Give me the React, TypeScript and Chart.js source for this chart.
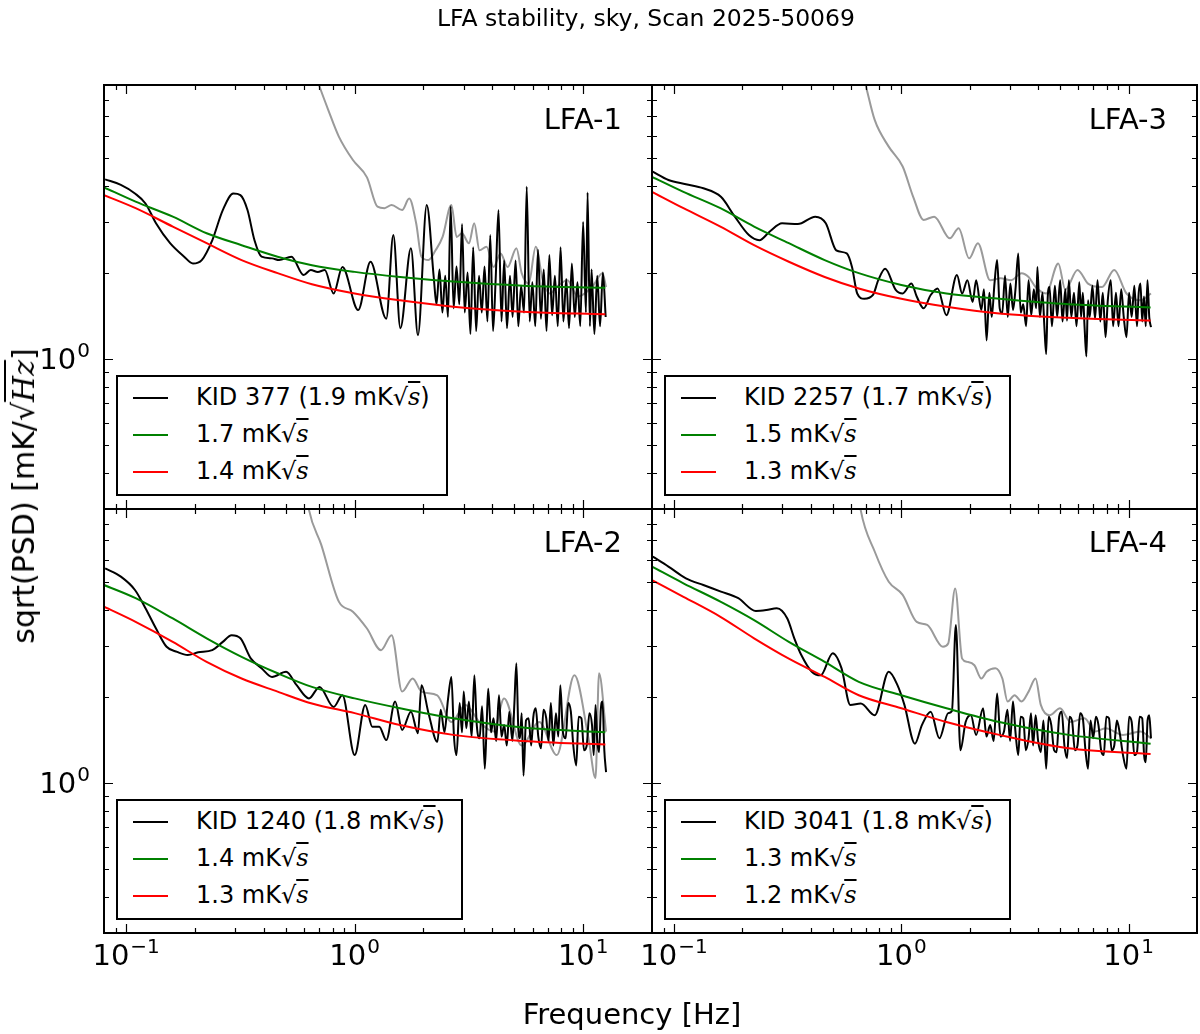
import React, { useEffect, useRef } from "react";
import { Chart, registerables } from "chart.js";

Chart.register(...registerables);

// ---------------- text ----------------
const TITLE = "LFA stability, sky, Scan 2025-50069";
const X_LABEL = "Frequency [Hz]";
const Y_LABEL_PREFIX = "sqrt(PSD) [mK/";
const Y_LABEL_ROOT = "Hz";
const Y_LABEL_SUFFIX = "]";

const panelNames = ["LFA-1", "LFA-3", "LFA-2", "LFA-4"];
const kidIds = ["377", "2257", "1240", "3041"];
const kidNoise = ["1.9", "1.7", "1.8", "1.8"];
const greenNoise = ["1.7", "1.5", "1.4", "1.3"];
const redNoise = ["1.4", "1.3", "1.3", "1.2"];

// ---------------- axes ----------------
const xMin = 0.08;
const xMax = 20;
const yMin = 0.3;
const yMax = 9;
const xMajorTicks = [0.1, 1, 10];
const xTickExponents = ["\u22121", "0", "1"];
const xMinorTicks = [0.09, 0.2, 0.3, 0.4, 0.5, 0.6, 0.7, 0.8, 0.9, 2, 3, 4, 5, 6, 7, 8, 9];
const yMajorTicks = [1];
const yTickExponents = ["0"];
const yMinorTicks = [0.4, 0.5, 0.6, 0.7, 0.8, 0.9, 2, 3, 4, 5, 6, 7, 8];

// ---------------- model curves (shared frequency grid) ----------------
const modelFreq = [0.08, 0.11, 0.16, 0.225, 0.32, 0.46, 0.65, 1.0, 1.58, 2.7, 5.45, 12.5];
const lfa1Green = [3.96, 3.53, 3.13, 2.74, 2.49, 2.27, 2.12, 2.01, 1.93, 1.86, 1.8, 1.77];
const lfa1Red = [3.72, 3.35, 2.89, 2.53, 2.21, 1.99, 1.82, 1.69, 1.6, 1.52, 1.46, 1.43];
const lfa3Green = [4.31, 3.82, 3.35, 2.89, 2.53, 2.21, 1.99, 1.81, 1.69, 1.62, 1.55, 1.51];
const lfa3Red = [3.82, 3.35, 2.89, 2.49, 2.18, 1.93, 1.76, 1.62, 1.52, 1.44, 1.39, 1.36];
const lfa2Green = [4.89, 4.4, 3.74, 3.19, 2.75, 2.41, 2.16, 1.97, 1.82, 1.68, 1.56, 1.5];
const lfa2Red = [4.11, 3.64, 3.1, 2.64, 2.31, 2.08, 1.89, 1.75, 1.59, 1.47, 1.4, 1.36];
const lfa4Green = [5.67, 4.96, 4.28, 3.69, 3.1, 2.64, 2.25, 2.02, 1.82, 1.63, 1.47, 1.37];
const lfa4Red = [5.09, 4.45, 3.79, 3.19, 2.71, 2.34, 2.02, 1.82, 1.63, 1.47, 1.32, 1.26];

// ---------------- KID spectra (black) ----------------
const lfa1KidFreq = [
  0.0809, 0.0948, 0.1093, 0.1215, 0.1351, 0.1557, 0.1794, 0.196, 0.2142, 0.2381,
  0.2648, 0.2945, 0.3162, 0.3396, 0.3644, 0.3912, 0.435, 0.467, 0.5286, 0.5981,
  0.6423, 0.6895, 0.7401, 0.8086, 0.8837, 1.036, 1.173, 1.375, 1.476, 1.585,
  1.763, 1.892, 2.067,
  2.22, 2.28, 2.35, 2.42, 2.49, 2.56, 2.63, 2.71, 2.79, 2.87,
  2.95, 3.03, 3.12, 3.21, 3.3, 3.4, 3.5, 3.6, 3.7, 3.81,
  3.92, 4.03, 4.14, 4.26, 4.39, 4.51, 4.64, 4.78, 4.91, 5.06,
  5.2, 5.35, 5.51, 5.66, 5.83, 5.99, 6.17, 6.34, 6.53, 6.72,
  6.91, 7.11, 7.31, 7.52, 7.74, 7.96, 8.19, 8.43, 8.67, 8.92,
  9.18, 9.44, 9.71, 9.99, 10.28, 10.45, 10.7, 10.88, 11.19, 11.52,
  11.85, 12.19, 12.54,
];
const lfa1Kid = [
  4.22, 4.04, 3.77, 3.48, 2.97, 2.53, 2.27, 2.15, 2.21, 2.59,
  3.3, 3.77, 3.72, 3.3, 2.59, 2.27, 2.24, 2.21, 2.27, 1.96,
  2.04, 2.01, 2.04, 1.69, 2.09, 1.48, 2.18, 1.38, 2.7, 1.28,
  2.43, 1.21, 3.44,
  1.91, 1.55, 2.05, 1.45, 1.95, 1.4, 3.4, 1.5, 2.1, 1.55,
  2.95, 1.45, 2.0, 1.22, 2.45, 1.25, 1.95, 1.45, 2.1, 1.35,
  2.7, 1.25, 1.9, 3.3, 1.35, 2.2, 1.28, 1.95, 1.4, 2.2,
  1.3, 1.8, 1.45, 3.98, 1.35, 1.85, 1.3, 2.4, 1.38, 2.05,
  1.25, 2.3, 1.42, 1.95, 1.3, 2.45, 1.35, 1.9, 1.28, 2.15,
  1.4, 1.85, 1.3, 3.0, 1.45, 3.8, 1.3, 2.05, 1.22, 1.95,
  1.3, 2.0, 1.4,
];

const lfa3KidFreq = [
  0.0806, 0.0945, 0.1128, 0.1346, 0.1608, 0.1852, 0.2135, 0.2373, 0.2639, 0.2988,
  0.3504, 0.4183, 0.4653, 0.5173, 0.5754, 0.6068, 0.6398, 0.6871, 0.7508, 0.7918,
  0.8495, 0.9449, 1.014, 1.108, 1.169, 1.254, 1.347, 1.445, 1.579, 1.757,
  1.852, 1.953, 2.06, 2.134,
  2.25, 2.31, 2.373, 2.44, 2.5, 2.57, 2.64, 2.71, 2.78, 2.86,
  2.94, 3.02, 3.1, 3.18, 3.27, 3.35, 3.44, 3.54, 3.63, 3.73,
  3.83, 3.92, 3.97, 4.07, 4.18, 4.26, 4.34, 4.41, 4.49, 4.6,
  4.74, 4.85, 5.0, 5.12, 5.27, 5.36, 5.46, 5.6, 5.75, 5.9,
  6.07, 6.18, 6.29, 6.4, 6.52, 6.63, 6.75, 6.93, 7.12, 7.3,
  7.51, 7.7, 7.92, 8.1, 8.35, 8.55, 8.8, 9.03, 9.28, 9.52,
  9.79, 10.05, 10.32, 10.6, 10.89, 11.08, 11.28, 11.48, 11.69, 11.9,
  12.11, 12.33, 12.55,
];
const lfa3Kid = [
  4.49, 4.2, 4.06, 3.93, 3.67, 3.13, 2.7, 2.59, 2.78, 2.97,
  2.95, 3.13, 2.97, 2.39, 2.33, 2.09, 1.69, 1.62, 1.67, 1.88,
  2.06, 1.74, 1.69, 1.83, 1.65, 1.5, 1.67, 1.76, 1.42, 1.96,
  1.69, 1.88, 1.58, 1.88,
  1.48, 1.75, 1.16, 1.7, 1.4, 1.83, 2.21, 1.5, 1.44, 1.95,
  1.4, 1.83, 1.48, 1.75, 2.33, 1.45, 1.55, 1.3, 1.88, 1.42,
  1.75, 1.5, 2.09, 1.4, 1.7, 1.3, 1.04, 1.65, 1.78, 1.3,
  1.8, 1.4, 1.88, 1.35, 1.75, 1.36, 1.88, 1.4, 1.7, 1.3,
  1.85, 1.4, 1.7, 1.3, 1.02, 1.6, 1.4, 1.8, 1.38, 1.88,
  1.35, 1.7, 1.19, 1.6, 1.88, 1.3, 1.7, 1.3, 1.75, 1.4,
  1.19, 1.7, 1.4, 1.8, 1.3, 1.7, 1.83, 1.35, 1.65, 1.3,
  1.88, 1.4, 1.29,
];

const lfa2KidFreq = [
  0.0809, 0.0948, 0.1093, 0.1215, 0.1351, 0.1503, 0.1671, 0.1859, 0.2067, 0.2381,
  0.2648, 0.2893, 0.3162, 0.3517, 0.3912, 0.435, 0.5012, 0.5573, 0.631, 0.7017,
  0.8086, 0.8837, 1.0, 1.112, 1.194, 1.281, 1.375, 1.503, 1.613, 1.763,
  1.892, 1.96, 2.104,
  2.3, 2.38, 2.47, 2.56, 2.65, 2.72, 2.79, 2.88, 2.95, 3.0,
  3.08, 3.16, 3.25, 3.34, 3.42, 3.52, 3.61, 3.71, 3.78, 3.84,
  3.95, 4.05, 4.16, 4.28, 4.39, 4.51, 4.63, 4.75, 4.9, 5.0,
  5.1, 5.2, 5.29, 5.38, 5.48, 5.62, 5.77, 5.92, 6.05, 6.2,
  6.36, 6.54, 6.7, 6.89, 7.05, 7.22, 7.4, 7.6, 7.78, 7.94,
  8.15, 8.38, 8.6, 8.83, 9.05, 9.32, 9.55, 9.82, 10.08, 10.36,
  10.64, 10.93, 11.12, 11.32, 11.52, 11.73, 11.94, 12.15, 12.37, 12.59,
];
const lfa2Kid = [
  5.59, 5.23, 4.7, 4.06, 3.45, 2.98, 2.86, 2.79, 2.85, 2.9,
  3.1, 3.27, 3.19, 2.71, 2.51, 2.34, 2.44, 2.19, 1.97, 2.16,
  1.84, 2.02, 1.25, 1.87, 1.57, 1.57, 1.41, 1.92, 1.53, 1.77,
  1.49, 2.19, 1.75,
  1.39, 1.8, 1.5, 1.95, 2.34, 1.45, 1.25, 1.9, 1.5, 2.08,
  1.55, 1.92, 1.45, 2.37, 1.6, 1.43, 1.85, 1.12, 1.6, 2.13,
  1.5, 1.68, 1.4, 2.02, 1.45, 1.59, 1.35, 1.77, 1.4, 1.9,
  2.61, 1.55, 1.43, 1.75, 1.06, 1.65, 1.68, 1.35, 1.7, 1.82,
  1.45, 1.32, 1.8, 1.68, 1.4, 1.9, 1.35, 1.75, 1.45, 2.19,
  1.5, 1.43, 1.9, 1.77, 1.35, 1.15, 1.7, 1.68, 1.3, 1.35,
  1.75, 1.59, 1.25, 1.87, 1.4, 1.28, 1.8, 1.92, 1.3, 1.09,
];

const lfa4KidFreq = [
  0.0806, 0.0945, 0.1128, 0.1346, 0.1608, 0.1918, 0.2291, 0.2548, 0.2833, 0.3151,
  0.3382, 0.3631, 0.4039, 0.4413, 0.4994, 0.5455, 0.5962, 0.6632, 0.7637, 0.8803,
  0.9618, 1.032, 1.148, 1.232, 1.347, 1.471, 1.608, 1.67, 1.738, 1.82,
  1.919, 2.024, 2.134,
  2.29, 2.37, 2.46, 2.55, 2.64, 2.73, 2.83, 2.93, 3.01, 3.1,
  3.18, 3.27, 3.35, 3.44, 3.53, 3.63, 3.72, 3.8, 3.9, 4.0,
  4.11, 4.22, 4.34, 4.45, 4.57, 4.7, 4.82, 4.95, 5.08, 5.22,
  5.36, 5.5, 5.65, 5.8, 5.96, 6.12, 6.29, 6.46, 6.63, 6.8,
  6.99, 7.18, 7.37, 7.57, 7.78, 7.98, 8.2, 8.42, 8.65, 8.88,
  9.12, 9.45, 9.79, 10.05, 10.32, 10.6, 10.89, 11.18, 11.48, 11.7,
  11.9, 12.12, 12.33, 12.55,
];
const lfa4Kid = [
  6.14, 5.67, 5.16, 4.89, 4.64, 4.4, 3.97, 4.0, 4.06, 3.74,
  3.19, 2.79, 2.44, 2.37, 2.83, 2.51, 1.87, 1.89, 1.72, 2.44,
  2.19, 1.87, 1.37, 1.59, 1.77, 1.43, 1.75, 1.78, 3.55, 1.3,
  1.63, 1.72, 1.47,
  1.82, 1.45, 1.59, 1.4, 2.05, 1.45, 1.51, 1.8, 1.4, 1.92,
  1.5, 1.25, 1.7, 1.68, 1.3, 1.43, 1.75, 1.35, 1.72, 1.4,
  1.28, 1.65, 1.12, 1.7, 1.59, 1.3, 1.28, 1.7, 1.77, 1.35,
  1.22, 1.7, 1.63, 1.3, 1.35, 1.75, 1.68, 1.3, 1.12, 1.65,
  1.43, 1.7, 1.59, 1.3, 1.25, 1.7, 1.68, 1.3, 1.35, 1.65,
  1.51, 1.25, 1.12, 1.7, 1.63, 1.25, 1.28, 1.7, 1.68, 1.25,
  1.18, 1.65, 1.72, 1.43,
];

// ---------------- uncorrected spectra (grey) ----------------
const lfa1GrayFreq = [
  0.6535, 0.7017, 0.7667, 0.8526, 0.9824, 1.132, 1.259, 1.351, 1.451, 1.613,
  1.732, 1.858, 1.96, 2.104, 2.259, 2.425, 2.649, 2.794, 2.946, 3.162,
  3.335, 3.517, 3.776, 4.053, 4.35, 4.669, 5.103, 5.38, 5.774, 6.198,
  6.653, 7.142, 7.666, 8.526, 9.482, 10.93, 12.15, 12.59,
];
const lfa1Gray = [
  10.5, 8.89, 7.36, 5.95, 4.93, 4.29, 3.39, 3.35, 3.44, 3.3,
  3.62, 2.97, 2.27, 2.21, 2.39, 2.66, 3.44, 2.66, 2.74, 2.53,
  2.97, 2.39, 2.46, 2.09, 2.33, 2.09, 2.43, 1.99, 1.83, 2.46,
  1.88, 1.69, 1.78, 1.88, 1.65, 1.78, 1.99, 1.78,
];
const lfa3GrayFreq = [
  0.6632, 0.6993, 0.7637, 0.8803, 1.014, 1.128, 1.254, 1.395, 1.636, 1.788,
  1.988, 2.173, 2.459, 2.734, 3.041, 3.382, 3.631, 3.897, 4.335, 4.907,
  5.267, 5.962, 6.631, 7.641, 8.647, 9.79, 11.28, 12.55,
];
const lfa3Gray = [
  10.5, 8.9, 6.8, 5.49, 4.68, 3.67, 3.05, 3.13, 2.63, 2.85,
  2.24, 2.53, 1.88, 1.91, 1.88, 1.99, 1.93, 1.78, 1.69, 2.15,
  1.74, 2.04, 1.83, 1.78, 2.04, 1.69, 1.6, 1.69,
];
const lfa2GrayFreq = [
  0.598, 0.631, 0.7143, 0.8526, 0.9824, 1.132, 1.304, 1.451, 1.613, 1.794,
  1.96, 2.299, 2.649, 3.052, 3.517, 4.053, 4.507, 5.38, 6.422, 7.666,
  9.152, 10.55, 11.32, 11.73, 12.59,
];
const lfa2Gray = [
  12, 8.94, 6.75, 4.28, 3.95, 3.45, 2.9, 3.27, 2.08, 2.31,
  2.08, 2.02, 1.63, 1.87, 1.63, 1.51, 1.97, 1.35, 1.63, 1.25,
  2.37, 1.43, 1.04, 2.41, 1.51,
];
const lfa4GrayFreq = [
  0.64, 0.6632, 0.7637, 0.8803, 1.014, 1.169, 1.3, 1.524, 1.608, 1.726,
  1.852, 1.953, 2.097, 2.251, 2.373, 2.594, 2.784, 2.936, 3.151, 3.382,
  3.631, 3.897, 4.11, 4.492, 4.995, 5.555, 6.4, 7.118, 7.915, 9.45,
  11.28, 12.55,
];
const lfa4Gray = [
  11, 8.9, 6.4, 5.02, 4.52, 3.64, 3.55, 2.98, 3.06, 4.76,
  2.71, 2.64, 2.57, 2.31, 2.44, 2.51, 2.31, 1.92, 2.02, 1.92,
  2.08, 2.31, 1.87, 1.72, 1.82, 1.63, 1.68, 1.51, 1.55, 1.47,
  1.51, 1.43,
];

// ---------------- layout ----------------
const W = 1200;
const H = 1034;
const FONT = "'DejaVu Sans', sans-serif";
const SERIF = "'DejaVu Serif', serif";

type Rect = { l: number; t: number; r: number; b: number };

const panelRects: Rect[] = [
  { l: 104, t: 85, r: 652, b: 509 },
  { l: 652, t: 85, r: 1197, b: 509 },
  { l: 104, t: 509, r: 652, b: 933 },
  { l: 652, t: 509, r: 1197, b: 933 },
];

const panelData = [
  { kidF: lfa1KidFreq, kidV: lfa1Kid, grayF: lfa1GrayFreq, grayV: lfa1Gray, green: lfa1Green, red: lfa1Red },
  { kidF: lfa3KidFreq, kidV: lfa3Kid, grayF: lfa3GrayFreq, grayV: lfa3Gray, green: lfa3Green, red: lfa3Red },
  { kidF: lfa2KidFreq, kidV: lfa2Kid, grayF: lfa2GrayFreq, grayV: lfa2Gray, green: lfa2Green, red: lfa2Red },
  { kidF: lfa4KidFreq, kidV: lfa4Kid, grayF: lfa4GrayFreq, grayV: lfa4Gray, green: lfa4Green, red: lfa4Red },
];

const BASE_FONT = "29px 'DejaVu Sans', sans-serif";
const SUP_FONT = "20px 'DejaVu Sans', sans-serif";

// draws "10" with a raised exponent; align: "center" (x axis) or "right" (y axis)
function drawPower(ctx: any, x: number, baseline: number, exp: string, align: string) {
  ctx.font = BASE_FONT;
  const w1 = ctx.measureText("10").width;
  ctx.font = SUP_FONT;
  const w2 = ctx.measureText(exp).width;
  const total = w1 + 1 + w2;
  const start = align === "center" ? x - total / 2 : x - total;
  ctx.textAlign = "left";
  ctx.textBaseline = "alphabetic";
  ctx.fillStyle = "#000";
  ctx.font = BASE_FONT;
  ctx.fillText("10", start, baseline);
  ctx.font = SUP_FONT;
  ctx.fillText(exp, start + w1 + 1, baseline - 12);
}

const frameTicksPlugin = {
  id: "frameTicks",
  afterDatasetsDraw(chart: any, _args: any, opts: any) {
    const { ctx, chartArea: a } = chart;
    const xs = chart.scales.x;
    const ys = chart.scales.y;
    ctx.save();
    ctx.strokeStyle = "#000";
    ctx.lineWidth = 1.2;
    ctx.beginPath();
    const vTick = (v: number, len: number) => {
      const px = Math.round(xs.getPixelForValue(v)) + 0.5;
      ctx.moveTo(px, a.bottom);
      ctx.lineTo(px, a.bottom - len);
      ctx.moveTo(px, a.top);
      ctx.lineTo(px, a.top + len);
    };
    const hTick = (v: number, len: number) => {
      const py = Math.round(ys.getPixelForValue(v)) + 0.5;
      ctx.moveTo(a.left, py);
      ctx.lineTo(a.left + len, py);
      ctx.moveTo(a.right, py);
      ctx.lineTo(a.right - len, py);
    };
    xMajorTicks.forEach((v) => vTick(v, 9));
    xMinorTicks.forEach((v) => vTick(v, 5));
    yMajorTicks.forEach((v) => hTick(v, 9));
    yMinorTicks.forEach((v) => hTick(v, 5));
    ctx.stroke();
    ctx.lineWidth = 2;
    ctx.strokeRect(a.left, a.top, a.right - a.left, a.bottom - a.top);

    if (opts && opts.showX) {
      xMajorTicks.forEach((v, i) => {
        drawPower(ctx, xs.getPixelForValue(v), a.bottom + 32, xTickExponents[i], "center");
      });
    }
    if (opts && opts.showY) {
      yMajorTicks.forEach((v, i) => {
        drawPower(ctx, a.left - 14, ys.getPixelForValue(v) + 10, yTickExponents[i], "right");
      });
    }
    ctx.restore();
  },
};

function PanelChart({ index }: { index: number }) {
  const ref = useRef<HTMLCanvasElement>(null);
  useEffect(() => {
    const rect = panelRects[index];
    const d = panelData[index];
    const showX = index >= 2;
    const showY = index % 2 === 0;
    const pts = (f: number[], v: number[]) => f.map((x, i) => ({ x, y: v[i] }));
    const chart = new Chart(ref.current as HTMLCanvasElement, {
      type: "line",
      data: {
        datasets: [
          { data: pts(d.grayF, d.grayV), borderColor: "#9a9a9a", order: 3 },
          { data: pts(d.kidF, d.kidV), borderColor: "#000000", order: 2 },
          { data: pts(modelFreq, d.green), borderColor: "#008000", order: 1 },
          { data: pts(modelFreq, d.red), borderColor: "#ff0000", order: 0 },
        ],
      },
      options: {
        animation: false,
        responsive: false,
        events: [],
        layout: {
          padding: { left: rect.l, top: rect.t, right: W - rect.r, bottom: H - rect.b },
        },
        elements: {
          point: { radius: 0 },
          line: { borderWidth: 2, cubicInterpolationMode: "monotone", fill: false },
        },
        plugins: {
          legend: { display: false },
          tooltip: { enabled: false },
          title: { display: false },
          frameTicks: { showX, showY },
        },
        scales: {
          x: {
            type: "logarithmic",
            min: xMin,
            max: xMax,
            grid: { display: false, drawTicks: false },
            border: { display: false },
            ticks: { display: false },
            afterFit: (s: any) => {
              s.height = 0;
              s.paddingLeft = 0;
              s.paddingRight = 0;
            },
          },
          y: {
            type: "logarithmic",
            min: yMin,
            max: yMax,
            grid: { display: false, drawTicks: false },
            border: { display: false },
            ticks: { display: false },
            afterFit: (s: any) => {
              s.width = 0;
              s.paddingTop = 0;
              s.paddingBottom = 0;
            },
          },
        },
      } as any,
      plugins: [frameTicksPlugin],
    });
    return () => chart.destroy();
  }, [index]);
  return (
    <canvas
      ref={ref}
      width={W}
      height={H}
      style={{ position: "absolute", left: 0, top: 0, width: W, height: H }}
    />
  );
}

function Root({ s }: { s: string }) {
  return (
    <span style={{ fontFamily: SERIF }}>
      √
      <span style={{ fontStyle: "italic", textDecoration: "overline", textDecorationThickness: "1.5px" }}>{s}</span>
    </span>
  );
}

function Legend({ index }: { index: number }) {
  const rect = panelRects[index];
  const top = index < 2 ? 375 : 799;
  const rows = [
    { color: "#000000", content: (<>KID {kidIds[index]} ({kidNoise[index]} mK<Root s="s" />)</>) },
    { color: "#008000", content: (<>{greenNoise[index]} mK<Root s="s" /></>) },
    { color: "#ff0000", content: (<>{redNoise[index]} mK<Root s="s" /></>) },
  ];
  return (
    <div
      style={{
        position: "absolute",
        left: rect.l + 12,
        top,
        height: 121,
        boxSizing: "border-box",
        border: "2px solid #000",
        background: "#fff",
        paddingTop: 2,
        paddingRight: 16,
        fontFamily: FONT,
        fontSize: 24,
        color: "#000",
        zIndex: 5,
        whiteSpace: "nowrap",
      }}
    >
      {rows.map((r, i) => (
        <div key={i} style={{ display: "flex", alignItems: "center", height: 37 }}>
          <div style={{ marginLeft: 15, width: 35, height: 2, background: r.color, flex: "none" }} />
          <div style={{ marginLeft: 28, lineHeight: "37px" }}>{r.content}</div>
        </div>
      ))}
    </div>
  );
}

export default function App() {
  return (
    <div
      style={{
        position: "absolute",
        left: 0,
        top: 0,
        width: W,
        height: H,
        background: "#fff",
        overflow: "hidden",
        fontFamily: FONT,
        color: "#000",
      }}
    >
      {[0, 1, 2, 3].map((i) => (
        <PanelChart key={i} index={i} />
      ))}
      {[0, 1, 2, 3].map((i) => (
        <Legend key={"lg" + i} index={i} />
      ))}
      {panelNames.map((n, i) => (
        <div
          key={"pn" + i}
          style={{
            position: "absolute",
            right: W - (panelRects[i].r - 30),
            top: i < 2 ? 105 : 528,
            fontSize: 29,
            lineHeight: 1,
            whiteSpace: "nowrap",
            zIndex: 6,
          }}
        >
          {n}
        </div>
      ))}
      <div
        style={{
          position: "absolute",
          left: 646,
          top: 7,
          transform: "translateX(-50%)",
          fontSize: 23.5,
          lineHeight: 1,
          whiteSpace: "nowrap",
        }}
      >
        {TITLE}
      </div>
      <div
        style={{
          position: "absolute",
          left: 632,
          top: 1000,
          transform: "translateX(-50%)",
          fontSize: 29,
          lineHeight: 1,
          whiteSpace: "nowrap",
        }}
      >
        {X_LABEL}
      </div>
      <div
        style={{
          position: "absolute",
          left: 24,
          top: 496,
          transform: "translate(-50%, -50%) rotate(-90deg)",
          fontSize: 30,
          lineHeight: 1,
          whiteSpace: "nowrap",
        }}
      >
        {Y_LABEL_PREFIX}
        <Root s={Y_LABEL_ROOT} />
        {Y_LABEL_SUFFIX}
      </div>
    </div>
  );
}
